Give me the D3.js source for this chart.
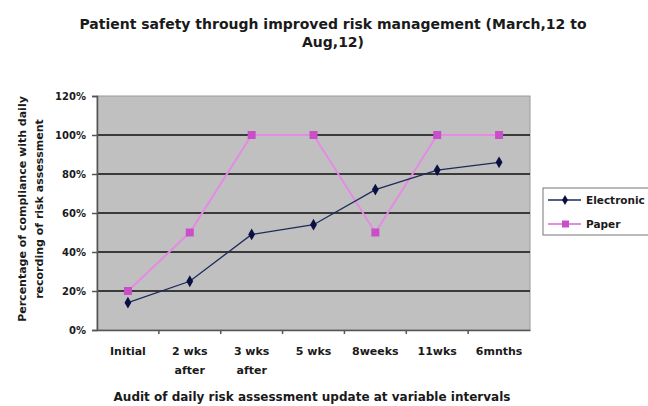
<!DOCTYPE html>
<html>
<head>
<meta charset="utf-8">
<script src="https://cdn.jsdelivr.net/npm/d3@7"></script>
<style>
  body { margin: 0; background: #fff; }
  text { font-family: "DejaVu Sans", Arial, sans-serif; font-weight: bold; fill: #1a1a1a; }
</style>
</head>
<body>
<div id="chart"></div>
<script>
var categories = ["Initial", "2 wks after", "3 wks after", "5 wks", "8weeks", "11wks", "6mnths"];
var electronic = [14, 25, 49, 54, 72, 82, 86];
var paper = [20, 50, 100, 100, 50, 100, 100];
var yTicks = [0, 20, 40, 60, 80, 100, 120];
var seriesNames = ["Electronic", "Paper"];

var width = 648, height = 406;
var margin = { top: 96, right: 118, bottom: 76, left: 97 };

var svg = d3.select("#chart").append("svg")
    .attr("width", width)
    .attr("height", height);

var x = d3.scaleBand()
    .domain(categories)
    .range([margin.left, width - margin.right]);

var y = d3.scaleLinear()
    .domain([0, 120])
    .range([height - margin.bottom, margin.top]);

// plot area
svg.append("rect")
    .attr("x", margin.left)
    .attr("y", margin.top)
    .attr("width", x.range()[1] - margin.left)
    .attr("height", y(0) - margin.top)
    .attr("fill", "#c0c0c0")
    .attr("stroke", "#9a9a9a");

// gridlines
svg.append("g").selectAll("line")
    .data(yTicks.filter(function(d) { return d > 0 && d < 120; }))
    .enter().append("line")
    .attr("x1", margin.left)
    .attr("x2", x.range()[1])
    .attr("y1", function(d) { return y(d); })
    .attr("y2", function(d) { return y(d); })
    .attr("stroke", "#3a3a3a")
    .attr("stroke-width", 2);

// y axis
var yAxis = svg.append("g")
    .attr("transform", "translate(" + margin.left + ",0)")
    .call(d3.axisLeft(y).tickValues(yTicks).tickSize(5).tickFormat(function(d) { return d + "%"; }));
yAxis.select(".domain").attr("stroke", "#555").attr("stroke-width", 1.5);
yAxis.selectAll(".tick line").attr("stroke", "#555").attr("stroke-width", 1.5);
yAxis.selectAll("text").attr("font-size", 10).attr("dx", -3)
    .style("font-family", "DejaVu Sans, Arial, sans-serif").style("font-weight", "bold").style("fill", "#1a1a1a");

// x axis
var xAxis = svg.append("g")
    .attr("transform", "translate(0," + y(0) + ")")
    .call(d3.axisBottom(x).tickSize(0).tickFormat(""));
xAxis.select(".domain").attr("stroke", "#555").attr("stroke-width", 1.5);

// tick marks between categories
svg.append("g").selectAll("line")
    .data(categories.slice(1))
    .enter().append("line")
    .attr("x1", function(d) { return x(d); })
    .attr("x2", function(d) { return x(d); })
    .attr("y1", y(0))
    .attr("y2", y(0) + 4)
    .attr("stroke", "#555")
    .attr("stroke-width", 1.5);

// category labels (wrap two-line ones)
svg.append("g").selectAll("text")
    .data(categories)
    .enter().append("text")
    .attr("x", function(d) { return x(d) + x.bandwidth() / 2; })
    .attr("y", y(0) + 25)
    .attr("text-anchor", "middle")
    .attr("font-size", 11)
    .each(function(d) {
      var parts = d.indexOf("after") > 0 ? [d.replace(" after", ""), "after"] : [d];
      var t = d3.select(this);
      parts.forEach(function(p, i) {
        t.append("tspan")
          .attr("x", x(d) + x.bandwidth() / 2)
          .attr("dy", i === 0 ? 0 : 19)
          .text(p);
      });
    });

var line = d3.line()
    .x(function(d, i) { return x(categories[i]) + x.bandwidth() / 2; })
    .y(function(d) { return y(d); });

// paper series
svg.append("path")
    .datum(paper)
    .attr("fill", "none")
    .attr("stroke", "#e58ae5")
    .attr("stroke-width", 2)
    .attr("d", line);

svg.append("g").selectAll("rect")
    .data(paper)
    .enter().append("rect")
    .attr("x", function(d, i) { return x(categories[i]) + x.bandwidth() / 2 - 4; })
    .attr("y", function(d) { return y(d) - 4; })
    .attr("width", 8)
    .attr("height", 8)
    .attr("fill", "#c94fc9");

// electronic series
svg.append("path")
    .datum(electronic)
    .attr("fill", "none")
    .attr("stroke", "#1c2a5a")
    .attr("stroke-width", 1.3)
    .attr("d", line);

svg.append("g").selectAll("path.marker")
    .data(electronic)
    .enter().append("path")
    .attr("class", "marker")
    .attr("d", d3.symbol().type(d3.symbolDiamond).size(40))
    .attr("transform", function(d, i) { return "translate(" + (x(categories[i]) + x.bandwidth() / 2) + "," + y(d) + ")"; })
    .attr("fill", "#0a1040");

// title
var title = svg.append("text")
    .attr("x", 333)
    .attr("y", 29)
    .attr("text-anchor", "middle")
    .attr("font-size", 14);
title.append("tspan").attr("x", 333).text("Patient safety through improved risk management (March,12 to");
title.append("tspan").attr("x", 333).attr("dy", 18).text("Aug,12)");

// y axis title
var yTitle = svg.append("text")
    .attr("transform", "translate(26," + (y(60) - 4) + ") rotate(-90)")
    .attr("text-anchor", "middle")
    .attr("font-size", 11);
yTitle.append("tspan").attr("x", 0).text("Percentage of compliance with daily");
yTitle.append("tspan").attr("x", 0).attr("dy", 17).text("recording of risk assessment");

// x axis title
svg.append("text")
    .attr("x", 312)
    .attr("y", 401)
    .attr("text-anchor", "middle")
    .attr("font-size", 12)
    .text("Audit of daily risk assessment update at variable intervals");

// legend
var legend = svg.append("g").attr("transform", "translate(543,188)");
legend.append("rect")
    .attr("width", 120)
    .attr("height", 47)
    .attr("fill", "#fff")
    .attr("stroke", "#777");

var legendColors = [["#1c2a5a", "#0a1040"], ["#e58ae5", "#c94fc9"]];
seriesNames.forEach(function(name, i) {
  var ly = 12 + i * 24;
  legend.append("line")
    .attr("x1", 5).attr("x2", 38)
    .attr("y1", ly).attr("y2", ly)
    .attr("stroke", legendColors[i][0])
    .attr("stroke-width", i === 0 ? 1.3 : 2);
  if (i === 0) {
    legend.append("path")
      .attr("d", d3.symbol().type(d3.symbolDiamond).size(30))
      .attr("transform", "translate(22," + ly + ")")
      .attr("fill", legendColors[i][1]);
  } else {
    legend.append("rect")
      .attr("x", 19).attr("y", ly - 3.5)
      .attr("width", 7).attr("height", 7)
      .attr("fill", legendColors[i][1]);
  }
  legend.append("text")
    .attr("x", 43)
    .attr("y", ly + 4)
    .attr("font-size", 10.5)
    .text(name);
});
</script>
</body>
</html>
